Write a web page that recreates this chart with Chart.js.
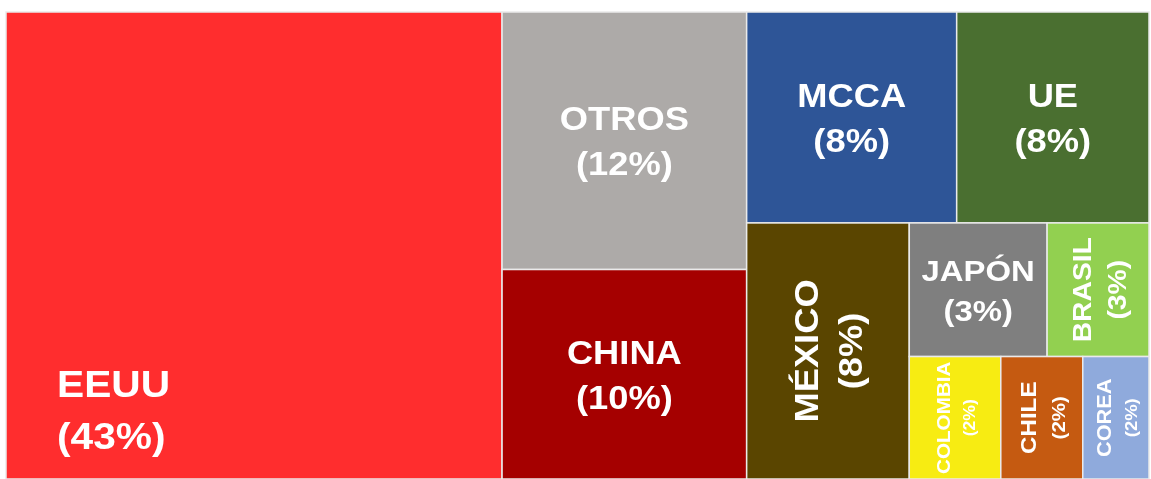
<!DOCTYPE html>
<html>
<head>
<meta charset="utf-8">
<script src="https://cdn.jsdelivr.net/npm/chart.js@4.4.1/dist/chart.umd.min.js"></script>
<style>
    html, body { margin: 0; padding: 0; background: #ffffff; }
    #wrap { width: 1151px; height: 479px; position: relative; }
</style>
</head>
<body>
<div id="wrap"><canvas id="treemap-chart"></canvas></div>
<script>
// destinos y participación (%)
const countries = ['EEUU', 'OTROS', 'CHINA', 'MCCA', 'UE', 'MÉXICO', 'JAPÓN', 'BRASIL', 'COLOMBIA', 'CHILE', 'COREA'];
const shares = [43.4, 11.8, 9.6, 8.3, 7.6, 7.8, 3.45, 2.55, 2.1, 1.88, 1.52];

const palette = ['#FF2D2E', '#ADAAA8', '#A50000', '#2E5597', '#4A6F30', '#5A4500',
                 '#7F7F7F', '#92D050', '#F7EC12', '#C55A11', '#8FAADC'];

const treemapChart = document.getElementById('treemap-chart');

function worstRatio(row, side)
{
    const s = row.reduce((a, b) => a + b, 0);
    let worst = 0;
    row.forEach(v => {
        const r = Math.max(side * side * v / (s * s), (s * s) / (side * side * v));
        if (r > worst) worst = r;
    });
    return worst;
}

// squarified layout, values are areas in the same units as rect
function squarify(values, rect)
{
    const out = [];
    let { x, y, w, h } = rect;
    let i = 0;
    while (i < values.length)
    {
        const side = Math.min(w, h);
        let row = [values[i]];
        let best = worstRatio(row, side);
        let j = i + 1;
        while (j < values.length)
        {
            const next = row.concat(values[j]);
            const r = worstRatio(next, side);
            if (r <= best) { row = next; best = r; j++; }
            else break;
        }
        const sum = row.reduce((a, b) => a + b, 0);
        if (w >= h)
        {
            const t = sum / h;
            let yy = y;
            row.forEach(v => { const hh = v / t; out.push({ x: x, y: yy, w: t, h: hh }); yy += hh; });
            x += t; w -= t;
        }
        else
        {
            const t = sum / w;
            let xx = x;
            row.forEach(v => { const ww = v / t; out.push({ x: xx, y: y, w: ww, h: t }); xx += ww; });
            y += t; h -= t;
        }
        i = j;
    }
    return out;
}

const treemapPlugin = {
    id: 'treemapCells',
    afterDatasetsDraw(chart)
    {
        const ctx = chart.ctx;
        const xScale = chart.scales.x;
        const yScale = chart.scales.y;
        const area = chart.chartArea;
        const ratio = (area.right - area.left) / (area.bottom - area.top);
        const total = shares.reduce((a, b) => a + b, 0);
        const cells = squarify(shares.map(v => v / total * ratio), { x: 0, y: 0, w: ratio, h: 1 });
        const family = '"Liberation Sans", Arial, sans-serif';

        cells.forEach((c, i) => {
            const left = xScale.getPixelForValue(c.x / ratio * 100);
            const right = xScale.getPixelForValue((c.x + c.w) / ratio * 100);
            const top = yScale.getPixelForValue(c.y * 100);
            const bottom = yScale.getPixelForValue((c.y + c.h) * 100);
            const w = right - left;
            const h = bottom - top;

            ctx.save();
            ctx.fillStyle = palette[i];
            ctx.fillRect(left, top, w, h);
            ctx.strokeStyle = '#EAEAEA';
            ctx.lineWidth = 1.5;
            ctx.strokeRect(left, top, w, h);

            ctx.beginPath();
            ctx.rect(left, top, w, h);
            ctx.clip();

            const name = countries[i];
            const pct = '(' + Math.round(shares[i] / total * 100) + '%)';
            ctx.fillStyle = '#ffffff';
            const stretch = 1.1;

            if (i === 0)
            {
                // biggest cell: label anchored bottom-left
                const size = 37;
                ctx.font = 'bold ' + size + 'px ' + family;
                ctx.textAlign = 'left';
                ctx.textBaseline = 'alphabetic';
                ctx.translate(left + 51, bottom - 30);
                ctx.scale(stretch, 1);
                ctx.fillText(name, 0, -52);
                ctx.fillText(pct, 0, 0);
                ctx.restore();
                return;
            }

            // tall narrow cells get vertical text
            const rotated = h > w * 1.25;
            const along = rotated ? h : w;
            ctx.font = 'bold 100px ' + family;
            const em = ctx.measureText(name).width / 100 * stretch;
            let size = Math.min(33, Math.sqrt(w * h) * 0.22, along * 0.92 / em);
            const pctSize = size < 23 ? size * 0.85 : size;
            const lh = size * 1.36;

            ctx.translate(left + w / 2 + (rotated ? 3 : 0), top + h / 2 + (rotated ? 0 : 3));
            if (rotated) ctx.rotate(-Math.PI / 2);
            ctx.scale(stretch, 1);
            ctx.textAlign = 'center';
            ctx.textBaseline = 'middle';
            ctx.font = 'bold ' + size.toFixed(1) + 'px ' + family;
            ctx.fillText(name, 0, -lh / 2);
            ctx.font = 'bold ' + pctSize.toFixed(1) + 'px ' + family;
            ctx.fillText(pct, 0, lh / 2);
            ctx.restore();
        });
    }
};

new Chart(treemapChart, {
    type: 'scatter',
    data: {
        datasets: [{
            label: 'Exportaciones',
            data: []
        }]
    },
    options: {
        responsive: true,
        maintainAspectRatio: false,
        animation: false,
        layout: {
            padding: { left: 6, top: 12, right: 2, bottom: 0 }
        },
        plugins: {
            legend: { display: false },
            tooltip: { enabled: false }
        },
        scales: {
            x: { type: 'linear', min: 0, max: 100, display: false },
            y: { type: 'linear', min: 0, max: 100, reverse: true, display: false }
        }
    },
    plugins: [treemapPlugin]
});
</script>
</body>
</html>
